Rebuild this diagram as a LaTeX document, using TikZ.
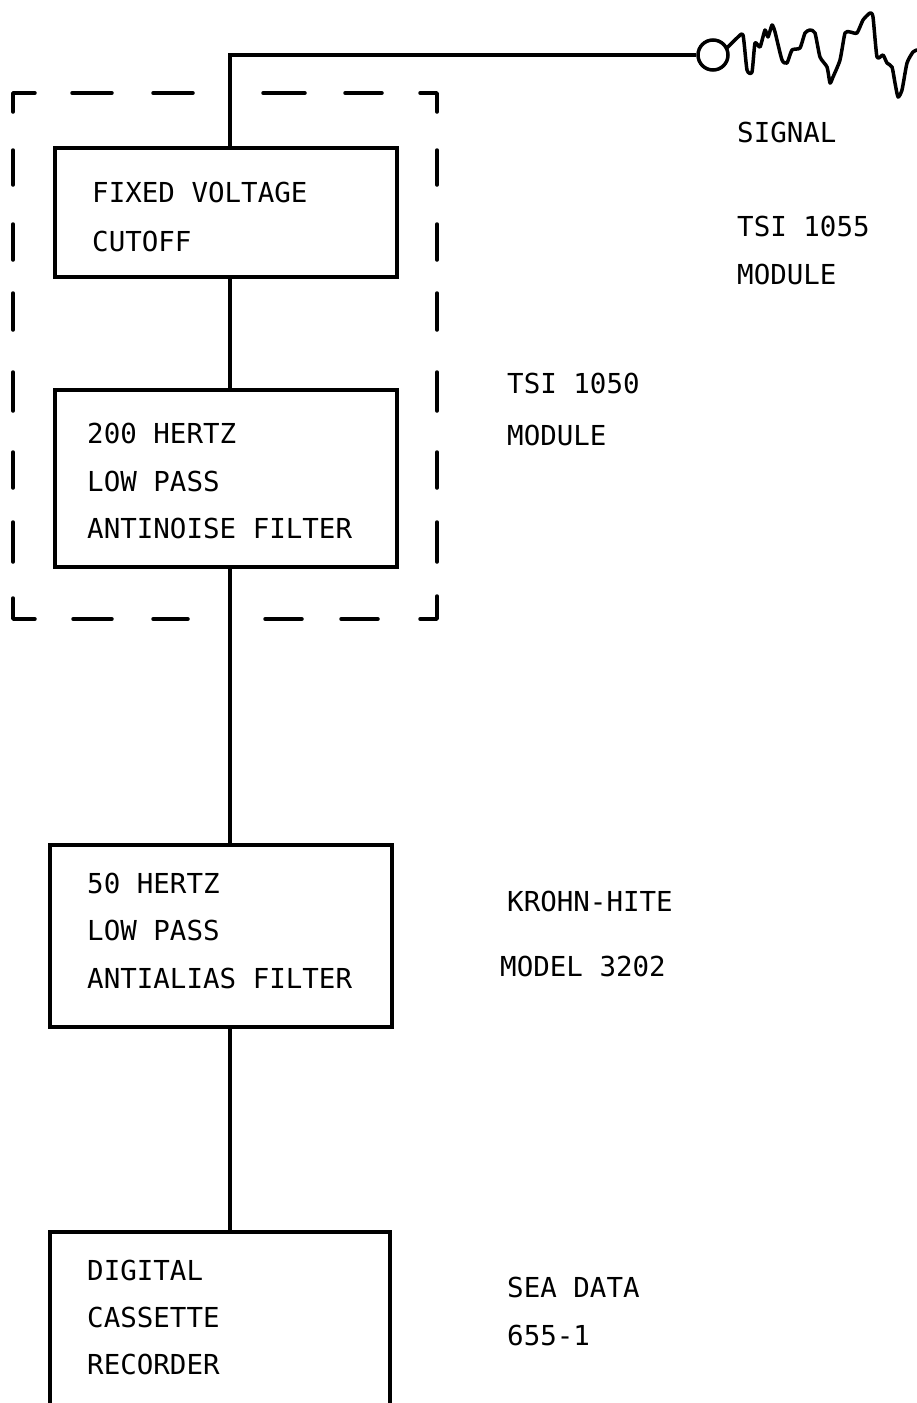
\documentclass[tikz,border=0pt]{standalone}
\usepackage{fontspec}
\setmonofont{DejaVu Sans Mono}
\begin{document}
\begin{tikzpicture}[x=1pt,y=-1pt,
  lbl/.style={anchor=base west, inner sep=0pt, font=\ttfamily\fontsize{27.5}{32}\selectfont},
  boxnode/.style={draw, line width=3.5pt, inner sep=0pt, rectangle},
  wire/.style={line width=3.5pt},
  dseg/.style={line width=3.5pt, line cap=round, line join=round}]
\useasboundingbox (0,0) rectangle (916,1403);
% signal source
\node[draw, circle, line width=3.5pt, minimum size=30pt, inner sep=0pt] (sig) at (713,55) {};
\coordinate (c0) at (230,55);
% boxes
\node[boxnode, minimum width=342pt, minimum height=129pt] (b1) at (226,212.5) {};
\node[boxnode, minimum width=342pt, minimum height=177pt] (b2) at (226,478.5) {};
\node[boxnode, minimum width=342pt, minimum height=182pt] (b3) at (221,936) {};
\node[inner sep=0pt, minimum width=340pt, minimum height=171pt] (b4) at (220,1317.5) {};
\draw[wire] (b4.south west) -- (b4.north west) -- (b4.north east) -- (b4.south east);
% box texts
\node[lbl] (t11) at (92,202) {FIXED VOLTAGE};
\node[lbl] (t12) at (92,251) {CUTOFF};
\node[lbl] (t21) at (87,443) {200 HERTZ};
\node[lbl] (t22) at (87,491) {LOW PASS};
\node[lbl] (t23) at (87,538) {ANTINOISE FILTER};
\node[lbl] (t31) at (87,893) {50 HERTZ};
\node[lbl] (t32) at (87,940) {LOW PASS};
\node[lbl] (t33) at (87,988) {ANTIALIAS FILTER};
\node[lbl] (t41) at (87,1280) {DIGITAL};
\node[lbl] (t42) at (87,1327) {CASSETTE};
\node[lbl] (t43) at (87,1374) {RECORDER};
% side labels
\node[lbl] (s1) at (737,142) {SIGNAL};
\node[lbl] (s2) at (737,236) {TSI 1055};
\node[lbl] (s3) at (737,284) {MODULE};
\node[lbl] (s4) at (507,393) {TSI 1050};
\node[lbl] (s5) at (507,445) {MODULE};
\node[lbl] (s6) at (507,911) {KROHN-HITE};
\node[lbl] (s7) at (500,976) {MODEL 3202};
\node[lbl] (s8) at (507,1297) {SEA DATA};
\node[lbl] (s9) at (507,1345) {655-1};
% connectors
\draw[wire] (sig.west) -- (c0) -- (c0 |- b1.north);
\draw[wire] (b1.south -| c0) -- (b2.north -| c0);
\draw[wire] (b2.south -| c0) -- (b3.north -| c0);
\draw[wire] (b3.south -| c0) -- (b4.north -| c0);
% waveform
\draw[line width=3.5pt, line join=round, line cap=round] (sig.north east)
  plot[smooth, tension=0.35] coordinates {(727,48) (737,38) (743,35) (747,70) (752,72) (755,43) (760,47) (765,30) (768,37) (772,25) (775,32) (782,60) (787,63) (792,50) (800,48) (805,33) (810,30) (815,33) (820,57) (827,67) (830,83) (833,77) (840,60) (845,33) (850,32) (857,33) (863,20) (870,13) (873,17) (877,57) (883,55) (887,63) (892,67) (895,83) (898,97) (902,90) (907,63) (913,52) (917,50)};
% dashed module outline
\draw[dseg] (35,93) -- (13,93) -- (13,112);
\draw[dseg] (420,93) -- (437,93) -- (437,112);
\draw[dseg] (13,598) -- (13,619) -- (35,619);
\draw[dseg] (437,596) -- (437,619) -- (420,619);
\foreach \a/\b in {72/112,153/193,263/305,345/382} \draw[dseg] (\a,93) -- (\b,93);
\foreach \a/\b in {73/112,153/188,265/302,341/378} \draw[dseg] (\a,619) -- (\b,619);
\foreach \a/\b in {150/185,224/260,293/330,372/411,452/488,522/562} {
  \draw[dseg] (13,\a) -- (13,\b);
  \draw[dseg] (437,\a) -- (437,\b);
}
\end{tikzpicture}
\end{document}
